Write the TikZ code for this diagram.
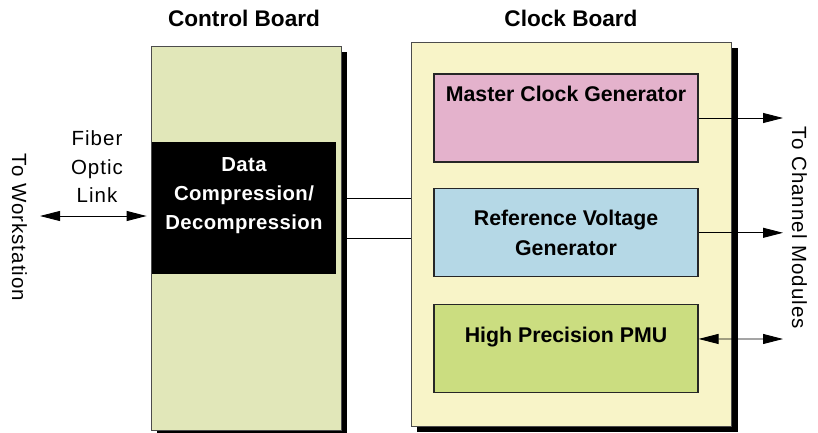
\documentclass[tikz,border=0pt]{standalone}
\usepackage{fontspec}
\setmainfont{Liberation Sans}
\newfontfamily\spacedfont[LetterSpace=5]{Liberation Sans}
\newfontfamily\spacedboldfont[LetterSpace=2]{Liberation Sans Bold}
\usetikzlibrary{arrows.meta,shadows,backgrounds}

\definecolor{ctrlfill}{RGB}{225,231,185}
\definecolor{clkfill}{RGB}{248,244,200}
\definecolor{mcgfill}{RGB}{228,178,204}
\definecolor{rvgfill}{RGB}{181,216,230}
\definecolor{pmufill}{RGB}{203,221,128}

\tikzset{
  board/.style={draw=black!70, line width=0.8pt, inner sep=0pt,
    drop shadow={shadow xshift=6pt, shadow yshift=-6pt, fill=black, opacity=1}},
  unit/.style={draw=black!85, line width=1.1pt, inner sep=0pt,
    minimum width=264pt, minimum height=88pt},
  heading/.style={font=\bfseries\fontsize{22.6}{26}\selectfont, inner sep=0pt, anchor=base},
  unitlabel/.style={font=\bfseries\fontsize{21.3}{30}\selectfont, inner sep=0pt, align=center},
  plainlabel/.style={font=\spacedfont\fontsize{20.5}{28.5}\selectfont, inner sep=0pt, align=center},
  darklabel/.style={font=\spacedboldfont\fontsize{20.3}{29}\selectfont, text=white, inner sep=0pt, align=center},
  tip/.tip={Triangle[length=20pt,width=10pt]},
  link/.style={line width=0.9pt, -tip},
  duallink/.style={line width=0.9pt, tip-tip},
  wire/.style={line width=0.9pt},
}

\begin{document}
\begin{tikzpicture}[x=1pt,y=-1pt]
\useasboundingbox (0,0) rectangle (818,433);

% boards
\node[board, fill=ctrlfill, minimum width=190pt, minimum height=383.5pt] (ctrl) at (246,238.25) {};
\node[board, fill=clkfill, minimum width=320.5pt, minimum height=383.7pt] (clk) at (571.25,234.15) {};

% board titles
\node[heading] (ctrlt) at (244,27) {Control Board};
\node[heading] (clkt) at (571,27) {Clock Board};

% control board unit
\node[fill=black, inner sep=0pt, minimum width=184pt, minimum height=132pt] (dcomp) at (244,208) {};
\node[darklabel] (dcompt) at (244,195.8) {Data\\Compression/\\Decompression};

% clock board units
\node[unit, fill=mcgfill] (mcg) at (566,118) {};
\node[unit, fill=rvgfill] (rvg) at (566,232.8) {};
\node[unit, fill=pmufill] (pmu) at (566,348.5) {};
\node[unitlabel, anchor=base] (mcgt) at (566,102) {Master Clock Generator};
\node[unitlabel] (rvgt) at (566,232.4) {Reference Voltage\\Generator};
\node[unitlabel, anchor=base] (pmut) at (566,342) {High Precision PMU};

% wires between the two boards, behind the shadows
\begin{scope}[on background layer]
  \draw[wire] ([yshift=40pt]ctrl.east) -- ([yshift=40pt]ctrl.east -| clk.west);
  \draw[wire] (ctrl.east) -- (ctrl.east -| clk.west);
\end{scope}

% fiber optic link to the workstation
\coordinate (ws) at (40,216);
\draw[duallink, shorten >=4pt] (ws) -- ([yshift=22.25pt]ctrl.west);
\node[plainlabel] (fiber) at (97,167) {Fiber\\Optic\\Link};
\node[plainlabel, rotate=-90] (wst) at (19.5,227.5) {To Workstation};

% outputs to the channel modules
\coordinate (cm1) at (783,118);
\coordinate (cm2) at (783,232.8);
\coordinate (cm3) at (783,339);
\draw[link] (mcg.east) -- (cm1);
\draw[link] (rvg.east) -- (cm2);
\draw[duallink] ([yshift=-35pt]pmu.north east) -- (cm3);
\node[plainlabel, rotate=-90] (cmt) at (799.5,228) {To Channel Modules};
\end{tikzpicture}
\end{document}
